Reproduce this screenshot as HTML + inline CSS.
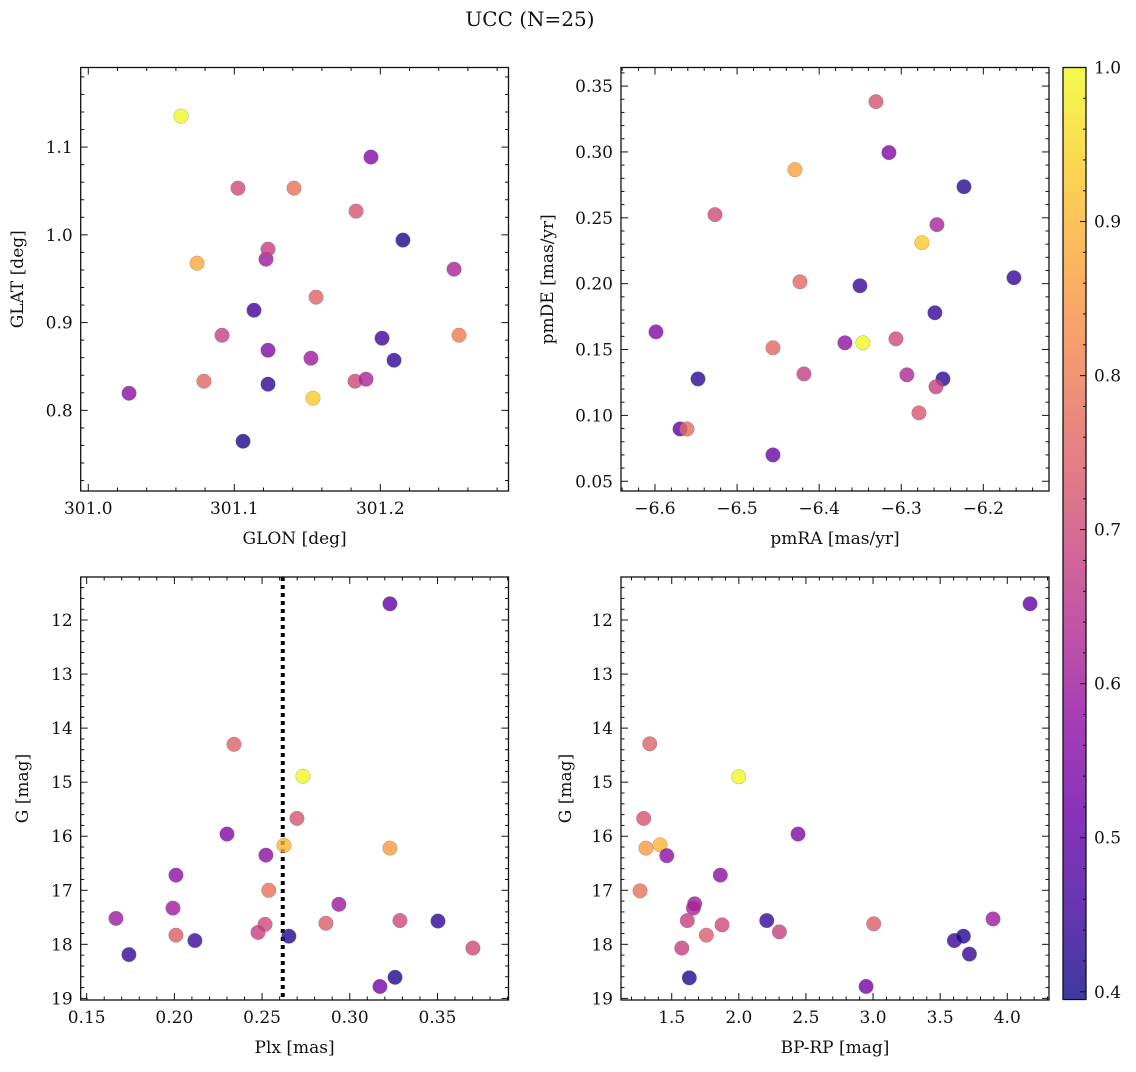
<!DOCTYPE html>
<html><head><meta charset="utf-8"><style>
body{margin:0;background:#fff;}
svg text{font-family:"DejaVu Serif","Liberation Serif",serif;fill:#111;}
</style></head><body>
<svg id="fig" width="1136" height="1067" viewBox="0 0 1136 1067" xmlns="http://www.w3.org/2000/svg">
<text x="530" y="26" font-size="20" text-anchor="middle">UCC (N=25)</text>
</svg>
<script>
// ---- Panel 1: GLON / GLAT ----
const glon1 = [301.0635,301.1025,301.1409,301.1936,301.1834,301.2155,301.0745,301.1217,301.1231,301.2505,301.156,301.1135,301.0916,301.2012,301.2539,301.1231,301.1525,301.2094,301.0792,301.1827,301.1902,301.1231,301.1539,301.0279,301.106];
const glat1 = [1.1353,1.0532,1.0532,1.0886,1.027,0.994,0.9677,0.9723,0.9837,0.9609,0.929,0.9141,0.8856,0.8822,0.8856,0.8685,0.8594,0.8571,0.8332,0.8332,0.8355,0.8298,0.8138,0.8195,0.7648];
const col1 = [1.0,0.7,0.78,0.55,0.72,0.42,0.88,0.6,0.68,0.62,0.75,0.45,0.68,0.45,0.8,0.55,0.6,0.43,0.76,0.7,0.62,0.43,0.93,0.57,0.41];
// ---- Panel 2: pmRA / pmDE ----
const pmra2 = [-6.3308,-6.315,-6.4295,-6.2236,-6.5269,-6.2565,-6.2748,-6.1627,-6.4234,-6.3503,-6.259,-6.5988,-6.3065,-6.3686,-6.3467,-6.4563,-6.2931,-6.4185,-6.5476,-6.2492,-6.2577,-6.2784,-6.5695,-6.561,-6.4563];
const pmde2 = [0.3382,0.2995,0.2865,0.2736,0.2524,0.2448,0.2311,0.2045,0.2014,0.1984,0.1779,0.1634,0.1581,0.1551,0.1551,0.1513,0.1308,0.1315,0.1277,0.1277,0.1217,0.1019,0.0897,0.0897,0.07];
const col2 = [0.72,0.55,0.87,0.43,0.7,0.62,0.93,0.44,0.76,0.44,0.44,0.55,0.7,0.58,1.0,0.76,0.63,0.68,0.43,0.43,0.68,0.73,0.5,0.77,0.52];
// ---- Panel 3: Plx / G ----
const plx3 = [0.3229,0.234,0.2733,0.2699,0.23,0.2625,0.3229,0.2522,0.2009,0.2538,0.2938,0.1992,0.2009,0.2117,0.1667,0.2517,0.2477,0.2864,0.3286,0.3503,0.2653,0.3702,0.1741,0.3258,0.3172];
const g3 = [11.70,14.30,14.89,15.67,15.96,16.17,16.22,16.35,16.72,17.0,17.26,17.33,17.83,17.93,17.52,17.63,17.78,17.61,17.56,17.57,17.85,18.07,18.19,18.61,18.78];
const col3 = [0.5,0.75,1.0,0.72,0.55,0.9,0.86,0.57,0.57,0.78,0.6,0.6,0.74,0.45,0.6,0.7,0.68,0.74,0.7,0.43,0.42,0.7,0.44,0.42,0.53];
const plxLine = [0.2618];
// ---- Panel 4: BP-RP / G ----
const bprp4 = [4.170,1.336,1.999,1.291,2.441,1.413,1.308,1.463,1.862,1.264,1.671,1.661,1.616,2.208,3.894,1.875,2.302,3.005,1.758,1.575,3.606,3.673,3.718,1.631,2.948];
const g4 = [11.70,14.29,14.90,15.67,15.96,16.16,16.22,16.36,16.72,17.01,17.25,17.33,17.56,17.56,17.53,17.64,17.77,17.62,17.83,18.07,17.93,17.85,18.18,18.62,18.78];
const col4 = [0.5,0.75,1.0,0.72,0.55,0.9,0.86,0.57,0.57,0.78,0.6,0.62,0.68,0.44,0.6,0.7,0.68,0.74,0.74,0.68,0.44,0.42,0.44,0.42,0.53];
// ---- Colorbar ----
const cbTicks = [0.4,0.5,0.6,0.7,0.8,0.9,1.0];
const cbRange = [0.395,1.0];

const NS="http://www.w3.org/2000/svg";
const svg=document.getElementById('fig');
function mk(tag,attrs,parent){const e=document.createElementNS(NS,tag);for(const k in attrs)e.setAttribute(k,attrs[k]);(parent||svg).appendChild(e);return e;}
const stops=[[13,8,135],[65,4,157],[106,0,168],[143,13,164],[177,42,144],[204,71,120],[225,100,98],[242,132,75],[252,166,54],[252,206,37],[240,249,33]];
function plasma(t){t=Math.max(0,Math.min(1,t));const p=t*10;const i=Math.min(9,Math.floor(p));const f=p-i;const a=stops[i],b=stops[i+1];
 return 'rgb('+a.map((v,k)=>Math.round(v+(b[k]-v)*f)).join(',')+')';}
function cnorm(v){return (v-cbRange[0])/(cbRange[1]-cbRange[0]);}
function fmt(v,d){let s=v.toFixed(d);return s.replace('-','\u2212');}

function panel(o){
 const g=mk('g',{});
 
 
 const X=v=>o.x0+(v-o.xr[0])/(o.xr[1]-o.xr[0])*(o.x1-o.x0);
 const Y=o.yinv? (v=>o.y0+(v-o.yr[0])/(o.yr[1]-o.yr[0])*(o.y1-o.y0)) : (v=>o.y1-(v-o.yr[0])/(o.yr[1]-o.yr[0])*(o.y1-o.y0));
 const tg=mk('g',{stroke:'#111','stroke-width':1},g);
 for(let k=Math.ceil(o.xr[0]/o.xmin-1e-6);k*o.xmin<=o.xr[1];k++){const v=k*o.xmin;const major=Math.abs(v/o.xmaj-Math.round(v/o.xmaj))<1e-4;const L=major?7:3.5;const px=X(v);
  mk('line',{x1:px,x2:px,y1:o.y1,y2:o.y1-L},tg);mk('line',{x1:px,x2:px,y1:o.y0,y2:o.y0+L},tg);}
 for(let k=Math.ceil(o.yr[0]/o.ymin-1e-6);k*o.ymin<=o.yr[1];k++){const v=k*o.ymin;const major=Math.abs(v/o.ymaj-Math.round(v/o.ymaj))<1e-4;const L=major?7:3.5;const py=Y(v);
  mk('line',{x1:o.x0,x2:o.x0+L,y1:py,y2:py},tg);mk('line',{x1:o.x1,x2:o.x1-L,y1:py,y2:py},tg);}
 o.xt.forEach(v=>{const t=mk('text',{x:X(v),y:o.y1+23,'font-size':17,'text-anchor':'middle'},g);t.textContent=fmt(v,o.xd);
  
  });
 o.yt.forEach(v=>{const t=mk('text',{x:o.x0-8,y:Y(v)+6,'font-size':17,'text-anchor':'end'},g);t.textContent=fmt(v,o.yd);
  
  });
 const xl=mk('text',{x:(o.x0+o.x1)/2,y:o.y1+53,'font-size':17,'text-anchor':'middle'},g);xl.textContent=o.xlab;
 
 
 const yl=mk('text',{x:0,y:0,'font-size':17,'text-anchor':'middle',transform:'translate('+o.ylx+','+(o.y0+o.y1)/2+') rotate(-90)'},g);yl.textContent=o.ylab;
 
 
 if(o.vline){o.vline.forEach(v=>{const l=mk('line',{x1:X(v),x2:X(v),y1:o.y0,y2:o.y1,stroke:'#000','stroke-width':4,'stroke-dasharray':'4 4'},g);
  
  });}
 o.xs.forEach((v,i)=>{const c=mk('circle',{cx:X(v),cy:Y(o.ys[i]),r:7.3,fill:plasma(cnorm(o.cs[i])),'fill-opacity':0.8,stroke:'#777','stroke-opacity':0.6,'stroke-width':0.5},g);
  
  });
 const fr=mk('rect',{x:o.x0,y:o.y0,width:o.x1-o.x0,height:o.y1-o.y0,fill:'none',stroke:'#111','stroke-width':1.3},g);
 
 
}
panel({name:'glon-glat-panel',x0:80.7,x1:508.5,y0:67.5,y1:491,xr:[300.9948,301.2878],yr:[0.7081,1.1907],xmaj:0.1,xmin:0.02,ymaj:0.1,ymin:0.02,
 xt:[301.0,301.1,301.2],xd:1,yt:[0.8,0.9,1.0,1.1],yd:1,xlab:'GLON [deg]',ylab:'GLAT [deg]',ylx:23,xs:glon1,ys:glat1,cs:col1});
panel({name:'pm-panel',x0:621,x1:1049,y0:67.5,y1:491,xr:[-6.6414,-6.12],yr:[0.0426,0.3641],xmaj:0.1,xmin:0.02,ymaj:0.05,ymin:0.01,
 xt:[-6.6,-6.5,-6.4,-6.3,-6.2],xd:1,yt:[0.05,0.10,0.15,0.20,0.25,0.30,0.35],yd:2,xlab:'pmRA [mas/yr]',ylab:'pmDE [mas/yr]',ylx:553,xs:pmra2,ys:pmde2,cs:col2});
panel({name:'plx-g-panel',x0:80.7,x1:508.5,y0:577,y1:1000,xr:[0.1466,0.3905],yr:[11.204,19.03],yinv:true,xmaj:0.05,xmin:0.01,ymaj:1,ymin:0.2,
 xt:[0.15,0.20,0.25,0.30,0.35],xd:2,yt:[12,13,14,15,16,17,18,19],yd:0,xlab:'Plx [mas]',ylab:'G [mag]',ylx:28,xs:plx3,ys:g3,cs:col3,vline:plxLine});
panel({name:'color-g-panel',x0:621,x1:1049,y0:577,y1:1000,xr:[1.122,4.311],yr:[11.204,19.03],yinv:true,xmaj:0.5,xmin:0.1,ymaj:1,ymin:0.2,
 xt:[1.5,2.0,2.5,3.0,3.5,4.0],xd:1,yt:[12,13,14,15,16,17,18,19],yd:0,xlab:'BP-RP [mag]',ylab:'G [mag]',ylx:571,xs:bprp4,ys:g4,cs:col4});

(function(){
 const x0=1063,x1=1086,y0=67.5,y1=999.5;
 const g=mk('g',{});
 
 
 const defs=mk('defs',{},g);const lg=mk('linearGradient',{id:'pl',x1:0,y1:1,x2:0,y2:0},defs);
 for(let i=0;i<=20;i++){mk('stop',{offset:i/20,'stop-color':plasma(i/20),'stop-opacity':0.8},lg);}
 mk('rect',{x:x0,y:y0,width:x1-x0,height:y1-y0,fill:'url(#pl)'},g);
 const Y=v=>y1-(v-cbRange[0])/(cbRange[1]-cbRange[0])*(y1-y0);
 for(let k=Math.ceil(cbRange[0]/0.02-1e-6);k*0.02<=cbRange[1]+1e-6;k++){const v=k*0.02;const maj=Math.abs(v*10-Math.round(v*10))<1e-4;
  mk('line',{x1:x1,x2:x1-(maj?6:3),y1:Y(v),y2:Y(v),stroke:'#111','stroke-width':1},g);}
 cbTicks.forEach(v=>{const t=mk('text',{x:x1+8,y:Y(v)+6,'font-size':17},g);t.textContent=v.toFixed(1);
  
  });
 mk('rect',{x:x0,y:y0,width:x1-x0,height:y1-y0,fill:'none',stroke:'#111','stroke-width':1.3},g);
})();
</script>
</body></html>
